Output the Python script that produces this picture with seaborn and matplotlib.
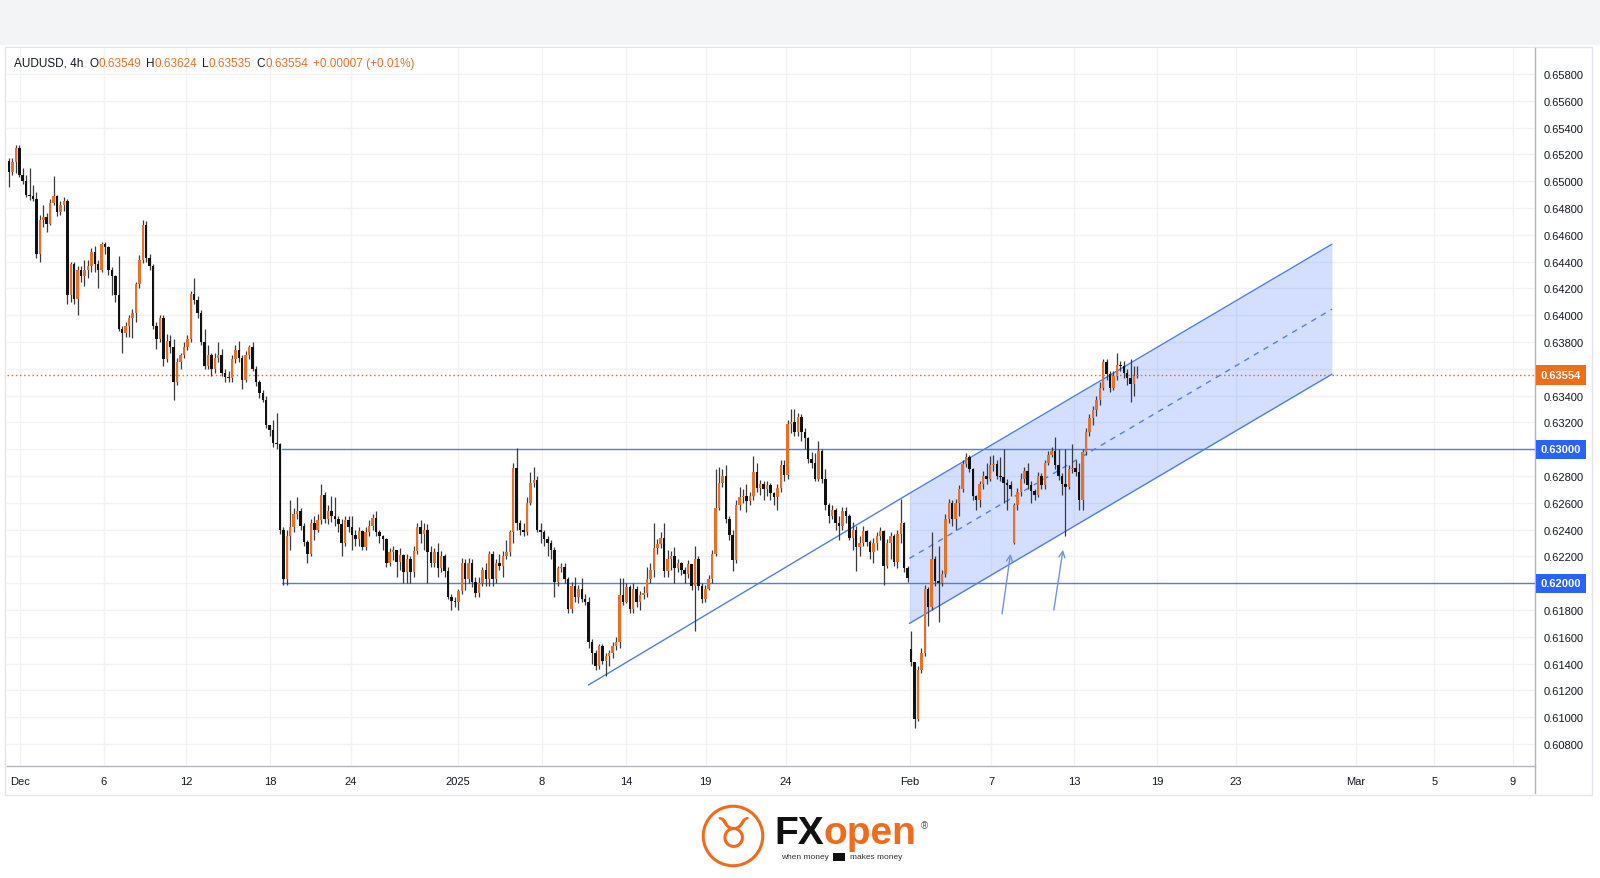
import numpy as np
import pandas as pd
import matplotlib
matplotlib.use('Agg')
import matplotlib.pyplot as plt
from matplotlib.patches import Rectangle, Circle
import matplotlib.transforms as mtransforms
import seaborn as sns

# AUDUSD 4h candles, prices in pips (x 0.0001); open = previous close unless gapped
first_open = 6515
close_pips = [
    # Dec
    6507, 6514, 6525, 6505, 6500, 6490, 6489, 6487, 6446, 6471,
    6473, 6468, 6484, 6489, 6477, 6482, 6485, 6415, 6438, 6412,
    6434, 6429, 6434, 6437, 6447, 6438, 6434, 6453, 6451, 6434,
    6429, 6415, 6390, 6387, 6392, 6398, 6402, 6423, 6441, 6467,
    6443, 6437, 6392, 6382, 6398, 6367, 6381, 6376, 6350, 6365,
    6370, 6376, 6382, 6416, 6411, 6402, 6380, 6362, 6370, 6360,
    6368, 6370, 6357, 6354, 6353, 6367, 6374, 6368, 6352, 6370,
    6376, 6360, 6350, 6342, 6337, 6318,
    # Dec 18 - Jan 10
    6314, 6305, 6304, 6240, 6203, 6235, 6242, 6252, 6254, 6243,
    6231, 6222, 6245, 6240, 6247, 6266, 6248, 6254, 6250, 6248,
    6244, 6230, 6247, 6242, 6236, 6233, 6239, 6227, 6238, 6243,
    6249, 6238, 6235, 6233, 6215, 6223, 6225, 6216, 6221, 6208,
    6218, 6208, 6224, 6242, 6237, 6240, 6223, 6215, 6223, 6211,
    6220, 6209, 6190, 6187, 6186, 6194, 6215, 6203, 6215, 6201,
    6193, 6200, 6210, 6203, 6222, 6203, 6215, 6213, 6220, 6223,
    6238, 6286, 6245, 6240, 6238, 6260, 6275, 6277, 6240, 6238,
    6233, 6230, 6225, 6201, 6211, 6212, 6203, 6181, 6198, 6190,
    6196,
    # Jan 10 - Jan 29
    6188, 6186, 6156, 6148, 6138, 6153, 6142, 6146, 6148, 6153,
    6156, 6191, 6186, 6197, 6181, 6196, 6186, 6191, 6193, 6203,
    6210, 6226, 6229, 6234, 6209, 6218, 6220, 6211, 6215, 6210,
    6207, 6214, 6198, 6218, 6198, 6188, 6196, 6203, 6222, 6256,
    6275, 6280, 6248, 6236, 6217, 6258, 6264, 6265, 6261, 6265,
    6283, 6271, 6274, 6270, 6273, 6267, 6264, 6271, 6288, 6281,
    6319, 6320, 6313, 6324, 6313, 6308, 6293, 6290, 6278, 6299,
    6278, 6258, 6250, 6255, 6245, 6243, 6254, 6250, 6234, 6240,
    6227, 6230, 6239, 6231, 6223, 6230, 6235,
    # Jan 29 - Jan 31
    6239, 6213, 6230, 6235, 6216, 6237, 6245, 6211, 6204,
    # Feb
    6141, 6099, 6135, 6148, 6196, 6182, 6218, 6202, 6200, 6207,
    6248, 6260, 6248, 6260, 6270, 6289, 6294, 6285, 6265, 6262,
    6274, 6280, 6278, 6288, 6289, 6280, 6279, 6275, 6273, 6270,
    6258, 6268, 6278, 6284, 6273, 6269, 6266, 6280, 6273, 6290,
    6296, 6299, 6288, 6280, 6274, 6272, 6285, 6286, 6283, 6262,
    6298, 6313, 6323, 6329, 6337, 6346, 6365, 6356, 6346, 6355,
    6363, 6362, 6357, 6353, 6349, 6354.9, 6355.4,
]
high_pips = [
    6517, 6517, 6527, 6527, 6510, 6505, 6510, 6497, 6492, 6475,
    6482, 6476, 6487, 6504, 6490, 6485, 6488, 6487, 6440, 6440,
    6437, 6437, 6441, 6441, 6450, 6452, 6441, 6455, 6455, 6452,
    6436, 6430, 6444, 6392, 6395, 6400, 6405, 6425, 6445, 6471,
    6470, 6446, 6438, 6395, 6400, 6400, 6386, 6385, 6382, 6368,
    6372, 6380, 6385, 6418, 6428, 6414, 6404, 6390, 6378, 6372,
    6372, 6380, 6375, 6360, 6358, 6370, 6378, 6381, 6370, 6373,
    6378, 6380, 6362, 6352, 6344, 6340,
    6318, 6322, 6327, 6305, 6242, 6240, 6262, 6256, 6264, 6256,
    6245, 6232, 6248, 6250, 6252, 6274, 6268, 6258, 6265, 6264,
    6250, 6248, 6250, 6250, 6250, 6240, 6242, 6240, 6242, 6247,
    6252, 6254, 6240, 6236, 6234, 6226, 6228, 6225, 6226, 6222,
    6222, 6220, 6228, 6245, 6247, 6245, 6244, 6228, 6226, 6230,
    6224, 6222, 6212, 6192, 6190, 6196, 6219, 6218, 6219, 6218,
    6205, 6205, 6212, 6215, 6224, 6224, 6218, 6222, 6224, 6232,
    6240, 6290, 6301, 6247, 6245, 6264, 6283, 6287, 6280, 6245,
    6240, 6235, 6232, 6227, 6213, 6215, 6215, 6205, 6201, 6205,
    6199,
    6204, 6192, 6190, 6158, 6150, 6155, 6155, 6148, 6150, 6156,
    6160, 6204, 6204, 6200, 6199, 6200, 6198, 6194, 6198, 6212,
    6215, 6245, 6233, 6238, 6245, 6225, 6224, 6227, 6218, 6216,
    6212, 6217, 6214, 6228, 6220, 6200, 6199, 6206, 6225, 6285,
    6287, 6285, 6288, 6250, 6240, 6262, 6272, 6270, 6274, 6268,
    6295, 6290, 6277, 6276, 6276, 6275, 6268, 6274, 6292, 6292,
    6322, 6330, 6330, 6327, 6326, 6316, 6309, 6298, 6297, 6306,
    6300, 6285, 6260, 6258, 6256, 6250, 6257, 6257, 6252, 6246,
    6243, 6235, 6243, 6240, 6232, 6234, 6238,
    6242, 6240, 6233, 6238, 6237, 6240, 6263, 6246, 6213,
    6164, 6141, 6138, 6152, 6199, 6197, 6238, 6220, 6228, 6210,
    6252, 6263, 6262, 6263, 6273, 6292, 6297, 6296, 6286, 6266,
    6276, 6284, 6290, 6295, 6296, 6292, 6294, 6300, 6278, 6276,
    6260, 6271, 6282, 6287, 6290, 6276, 6270, 6283, 6282, 6292,
    6299, 6302, 6309, 6300, 6282, 6300, 6288, 6304, 6292, 6290,
    6300, 6316, 6326, 6332, 6340, 6350, 6367, 6367, 6358, 6358,
    6372, 6366, 6366, 6360, 6367, 6362, 6362.4,
]
low_pips = [
    6496, 6505, 6506, 6503, 6498, 6488, 6486, 6485, 6443, 6440,
    6466, 6462, 6467, 6482, 6474, 6475, 6478, 6408, 6410, 6408,
    6400, 6425, 6422, 6428, 6432, 6432, 6420, 6432, 6446, 6430,
    6415, 6410, 6388, 6372, 6384, 6384, 6383, 6395, 6420, 6439,
    6440, 6434, 6390, 6375, 6380, 6362, 6365, 6372, 6337, 6348,
    6360, 6368, 6374, 6380, 6408, 6398, 6378, 6360, 6360, 6355,
    6357, 6365, 6355, 6350, 6350, 6350, 6364, 6365, 6345, 6350,
    6367, 6358, 6347, 6338, 6335, 6316,
    6310, 6302, 6300, 6237, 6199, 6199, 6225, 6238, 6248, 6240,
    6228, 6215, 6220, 6232, 6238, 6244, 6245, 6244, 6246, 6243,
    6238, 6220, 6228, 6238, 6225, 6228, 6228, 6225, 6225, 6235,
    6240, 6235, 6230, 6225, 6212, 6213, 6217, 6205, 6210, 6200,
    6200, 6200, 6205, 6222, 6230, 6225, 6200, 6212, 6212, 6205,
    6208, 6205, 6188, 6180, 6182, 6180, 6192, 6195, 6200, 6197,
    6190, 6190, 6198, 6198, 6198, 6198, 6200, 6210, 6205, 6218,
    6220, 6230, 6240, 6236, 6235, 6236, 6258, 6272, 6238, 6230,
    6228, 6220, 6218, 6190, 6198, 6208, 6200, 6178, 6178, 6186,
    6185,
    6186, 6184, 6152, 6140, 6135, 6136, 6140, 6131, 6138, 6144,
    6150, 6152, 6184, 6185, 6178, 6178, 6182, 6180, 6188, 6190,
    6200, 6205, 6222, 6226, 6205, 6205, 6210, 6200, 6208, 6206,
    6200, 6204, 6195, 6164, 6195, 6185, 6186, 6195, 6200, 6220,
    6255, 6272, 6245, 6232, 6209, 6215, 6255, 6260, 6253, 6258,
    6262, 6268, 6266, 6262, 6265, 6262, 6258, 6255, 6268, 6276,
    6278, 6312, 6310, 6310, 6306, 6300, 6290, 6286, 6276, 6276,
    6275, 6255, 6245, 6248, 6240, 6232, 6240, 6245, 6232, 6225,
    6209, 6220, 6228, 6228, 6218, 6215, 6225,
    6232, 6199, 6211, 6218, 6213, 6211, 6230, 6208, 6201,
    6138, 6092, 6097, 6133, 6146, 6168, 6180, 6198, 6171, 6198,
    6205, 6245, 6243, 6240, 6250, 6268, 6287, 6283, 6262, 6255,
    6257, 6270, 6274, 6276, 6284, 6278, 6276, 6260, 6255, 6265,
    6229, 6255, 6265, 6275, 6270, 6260, 6262, 6264, 6270, 6270,
    6288, 6294, 6285, 6277, 6266, 6235, 6270, 6282, 6280, 6255,
    6255, 6296, 6310, 6318, 6325, 6333, 6344, 6352, 6343, 6344,
    6352, 6358, 6353, 6348, 6335, 6340, 6353.5,
]
gap_bars = [263, 293]
gap_open_pips = [6151, 6230]

date_labels = ['Dec', '6', '12', '18', '24', '2025', '8', '14', '19', '24',
               'Feb', '7', '13', '19', '23', 'Mar', '5', '9']
date_bars = [3.2, 27.6, 51.6, 76.1, 99.7, 130.8, 155.4, 180.0, 203.1, 226.4,
             262.6, 286.3, 310.6, 334.7, 357.7, 392.7, 415.5, 438.5]

price_ticks = [0.608 + 0.002 * k for k in range(26)]
level_prices = [0.6300, 0.6200]
level_start = 79.5
last_price = 0.63554

trend_bars = [168.9, 262.5]
trend_prices = [0.6124, 0.6267]
channel_bars = [262.5, 385.7]
channel_upper = [0.6267, 0.6453]
channel_lower = [0.6170, 0.6356]

arrow_tails = [(289.4, 0.6175), (304.5, 0.6178)]
arrow_tips = [(292.1, 0.6224), (307.4, 0.6227)]

# ---- data frame ----
df = pd.DataFrame({'close': np.array(close_pips, float) / 1e4,
                   'high': np.array(high_pips, float) / 1e4,
                   'low': np.array(low_pips, float) / 1e4})
df['open'] = df['close'].shift(1).fillna(first_open / 1e4)
for b, o in zip(gap_bars, gap_open_pips):
    df.loc[b, 'open'] = o / 1e4
df['high'] = df[['high', 'open', 'close']].max(axis=1)
df['low'] = df[['low', 'open', 'close']].min(axis=1)
df['bar'] = np.arange(len(df))

ORANGE = '#e8712a'
LOGO = '#f26a1b'
BLUE = '#4f7fe8'
TXT = '#131722'

sns.set_theme(style='white')
plt.rcParams['font.family'] = ['Liberation Sans', 'DejaVu Sans']

W, H = 1600, 879
fig = plt.figure(figsize=(16, 8.79), dpi=100)
fig.patch.set_facecolor('white')

def fx(px):
    return px / W

def fy(py):
    return (H - py) / H

# top band and panel border
fig.add_artist(Rectangle((0, fy(46)), 1, 46 / H, transform=fig.transFigure,
                         facecolor='#f3f4f6', edgecolor='none', zorder=0))
fig.add_artist(Rectangle((fx(5), fy(796)), fx(1592 - 5), (796 - 48) / H,
                         transform=fig.transFigure, facecolor='white',
                         edgecolor='#e3e5ea', lw=1, zorder=0))

ax = fig.add_axes([fx(7), fy(767), fx(1535 - 7), (767 - 49) / H])
ax.set_facecolor('white')

x0 = (7 - 9) / 3.43
x1 = (1535 - 9) / 3.43
ax.set_xlim(x0, x1)
ax.set_ylim(0.60636, 0.65994)

# the two level prices are shown in their own boxes instead of plain ticks
ytick_text = ['' if any(abs(p - lv) < 1e-6 for lv in level_prices) else f'{p:.5f}'
              for p in price_ticks]
ax.set_yticks(price_ticks)
ax.set_yticklabels(ytick_text)
ax.set_xticks(date_bars)
ax.set_xticklabels(date_labels)
ax.grid(True, color='#f1f2f5', lw=1)
ax.set_axisbelow(True)
ax.yaxis.tick_right()
ax.tick_params(axis='y', length=0, pad=6, labelsize=8, labelcolor=TXT)
ax.tick_params(axis='x', length=0, pad=7, labelsize=8, labelcolor=TXT)
for s in ['top', 'left']:
    ax.spines[s].set_visible(False)
for s in ['bottom', 'right']:
    ax.spines[s].set_color('#b2b5be')
    ax.spines[s].set_linewidth(1)
fig.add_artist(plt.Line2D([fx(1535), fx(1535)], [fy(767), fy(794)],
                          transform=fig.transFigure, color='#b2b5be', lw=1))

# channel fill and lines
cb = np.array(channel_bars)
ax.fill_between(cb, channel_lower, channel_upper, color='#2962ff', alpha=0.2,
                linewidth=0, zorder=1)
sns.lineplot(x=trend_bars + channel_bars, y=trend_prices + channel_upper, ax=ax,
             color=BLUE, lw=1, zorder=2)
sns.lineplot(x=channel_bars, y=channel_lower, ax=ax, color=BLUE, lw=1, zorder=2)
mid = [(u + l) / 2 for u, l in zip(channel_upper, channel_lower)]
ax.plot(channel_bars, mid, color=BLUE, lw=1, ls=(0, (4, 4)), zorder=2)

# horizontal levels
for lv in level_prices:
    ax.plot([level_start, x1], [lv, lv], color=BLUE, lw=1, zorder=2)
ax.axhline(last_price, color='#e8651a', lw=1, ls=(0, (1, 2)), zorder=2)

# candles
up = df['close'] >= df['open']
colors = np.where(up, ORANGE, '#111111')
ax.vlines(df['bar'], df['low'], df['high'], color='#3a3a3a', lw=0.9, zorder=3)
body = (df['close'] - df['open']).abs().clip(lower=0.00004)
ax.bar(df['bar'], body, bottom=df[['open', 'close']].min(axis=1), width=0.72,
       color=colors, linewidth=0, zorder=4)

# arrows
for t, h in zip(arrow_tails, arrow_tips):
    ax.annotate('', xy=h, xytext=t,
                arrowprops=dict(arrowstyle='->', color='#6f93ea', lw=1,
                                mutation_scale=11), zorder=5)

# price axis boxes
trans = mtransforms.blended_transform_factory(ax.transAxes, ax.transData)
box_x = 1 + 26 / 1528
for lv in level_prices:
    ax.text(box_x, lv, f'{lv:.5f}', transform=trans, ha='center', va='center',
            fontsize=8, color='white', fontweight='bold', zorder=10, clip_on=False,
            bbox=dict(boxstyle='square,pad=0.42', facecolor='#2962ff', edgecolor='none'))
ax.text(box_x, last_price, f'{last_price:.5f}', transform=trans, ha='center',
        va='center', fontsize=8, color='white', fontweight='bold', zorder=10,
        clip_on=False,
        bbox=dict(boxstyle='square,pad=0.42', facecolor='#ef6c1a', edgecolor='none'))

# header
header = [('AUDUSD, 4h', TXT, 6), ('O', TXT, 0), ('0.63549', ORANGE, 5),
          ('H', TXT, 0), ('0.63624', ORANGE, 5), ('L', TXT, 0),
          ('0.63535', ORANGE, 5), ('C', TXT, 0), ('0.63554', ORANGE, 5),
          ('+0.00007 (+0.01%)', ORANGE, 0)]
fig.canvas.draw()
renderer = fig.canvas.get_renderer()
xpos = 14
for s, c, gap in header:
    t = fig.text(fx(xpos), fy(64), s, color=c, fontsize=8.5, ha='left', va='center')
    bb = t.get_window_extent(renderer=renderer)
    xpos += bb.width + gap

# logo emblem in its own square axes
lax = fig.add_axes([fx(701), fy(869), fx(64), 64 / H])
lax.set_xlim(-1, 1)
lax.set_ylim(-1, 1)
lax.set_aspect('equal')
lax.axis('off')
lax.add_patch(Circle((0, 0), 0.93, facecolor='white', edgecolor=LOGO, lw=2.2))
lax.text(0, 0.02, '\u2649', color=LOGO, fontsize=30, ha='center', va='center',
         family='DejaVu Sans', fontweight='bold')

t1 = fig.text(fx(774), fy(834), 'FX', color='#111111', fontsize=28,
              fontweight='bold', ha='left', va='center')
bb = t1.get_window_extent(renderer=renderer)
t2 = fig.text(fx(774) + bb.width / W, fy(834), 'open', color=LOGO, fontsize=28,
              fontweight='bold', ha='left', va='center')
fig.text(fx(921), fy(826), '\u00ae', color='#555555', fontsize=7, ha='left',
         va='center')
fig.text(fx(781), fy(858), 'when money', color='#333333', fontsize=6,
         ha='left', va='center')
fig.add_artist(Rectangle((fx(833), fy(862)), fx(12), 8 / H, transform=fig.transFigure,
                         facecolor='#111111', edgecolor='none'))
fig.text(fx(850), fy(858), 'makes money', color='#333333', fontsize=6,
         ha='left', va='center')

fig.savefig('out.png', dpi=100, facecolor='white')
